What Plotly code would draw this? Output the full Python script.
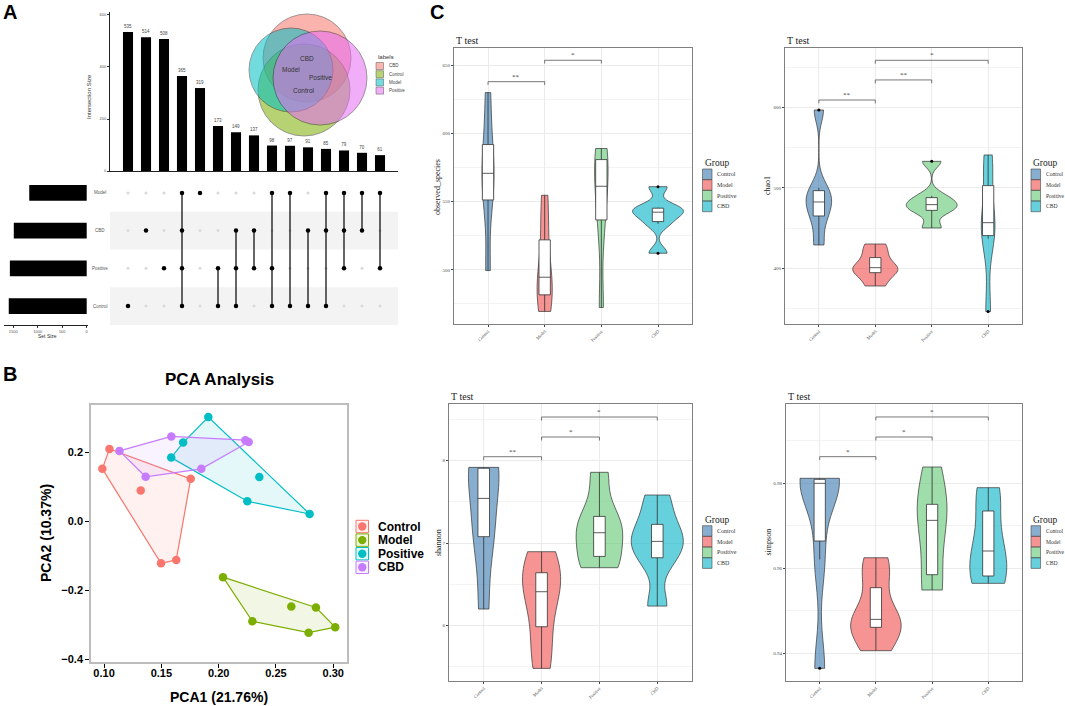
import numpy as np
import plotly.graph_objects as go

W, H = 1065, 706
def fx(p):
    return p / W
def fy(p):
    return 1 - p / H

SANS = "Liberation Sans"
SERIF = "Liberation Serif"

# ======================= DATA =======================
# Panel A : UpSet plot
set_names = ["Model", "CBD", "Positive", "Control"]          # matrix rows, top -> bottom
set_sizes = [1174, 1490, 1570, 1593]
intersection_sizes = [535, 514, 508, 365, 319, 173, 149, 137, 98, 97, 91, 85, 79, 70, 61]
intersection_sets = [
    ["Control"], ["CBD"], ["Positive"], ["Model", "CBD", "Positive", "Control"], ["Model"],
    ["Positive", "Control"], ["CBD", "Positive", "Control"], ["CBD", "Positive"],
    ["Model", "Positive", "Control"], ["Model", "Control"], ["CBD", "Control"],
    ["Model", "CBD", "Control"], ["Model", "CBD", "Positive"], ["Model", "CBD"],
    ["Model", "Positive"],
]
venn_labels = ["CBD", "Control", "Model", "Positive"]

# Panel B : PCA
pca_groups = ["Control", "Model", "Positive", "CBD"]
pc1_control = [0.1047, 0.0985, 0.1320, 0.1756, 0.1497, 0.1630]
pc2_control = [0.2097, 0.1520, 0.0890, 0.1230, -0.1220, -0.1120]
pc1_model = [0.2038, 0.2294, 0.2634, 0.2849, 0.3017, 0.2785]
pc2_model = [-0.162, -0.290, -0.247, -0.250, -0.307, -0.323]
pc1_positive = [0.1910, 0.1690, 0.1586, 0.2355, 0.2250, 0.2794]
pc2_positive = [0.302, 0.228, 0.1845, 0.1285, 0.058, 0.021]
pc1_cbd = [0.1587, 0.1134, 0.1363, 0.1849, 0.2233, 0.2262]
pc2_cbd = [0.246, 0.204, 0.129, 0.152, 0.235, 0.230]

# Panel C : alpha diversity (6 samples per group)
groups = ["Control", "Model", "Positive", "CBD"]
observed_species = {
    "Control": [499.5, 546.7, 565.0, 576.6, 597.0, 630.0],
    "Model": [469.5, 478.9, 490.0, 499.2, 529.6, 554.7],
    "Positive": [472.4, 530.5, 555.0, 567.6, 585.3, 589.0],
    "CBD": [512.2, 533.7, 540.5, 544.1, 545.6, 561.0],
}
chao1 = {
    "Control": [429.0, 460.7, 478.0, 486.8, 499.7, 596.7],
    "Model": [378.0, 393.1, 399.0, 402.6, 416.9, 430.2],
    "Positive": [450.1, 470.3, 477.0, 481.2, 490.0, 532.9],
    "CBD": [346.2, 436.8, 452.0, 461.4, 516.5, 540.8],
}
shannon = {
    "Control": [6.202, 7.039, 7.199, 7.887, 7.915, 7.919],
    "Model": [5.483, 5.867, 6.350, 6.474, 6.698, 6.897],
    "Positive": [6.703, 6.760, 7.080, 7.174, 7.375, 7.859],
    "CBD": [6.238, 6.772, 6.980, 7.064, 7.283, 7.584],
}
simpson = {
    "Control": [0.93647, 0.96211, 0.97940, 0.98060, 0.98105, 0.98118],
    "Model": [0.94063, 0.94576, 0.94720, 0.94880, 0.95767, 0.96250],
    "Positive": [0.95490, 0.95500, 0.96902, 0.97356, 0.97556, 0.98384],
    "CBD": [0.95647, 0.95677, 0.96250, 0.96566, 0.97610, 0.97898],
}
# significance comparisons: (group a, group b, label)
obs_pairs = [("Control", "Model", "**"), ("Model", "Positive", "*")]
chao1_pairs = [("Control", "Model", "**"), ("Model", "Positive", "**"), ("Model", "CBD", "*")]
shannon_pairs = [("Control", "Model", "**"), ("Model", "Positive", "*"), ("Model", "CBD", "*")]
simpson_pairs = [("Control", "Model", "*"), ("Model", "Positive", "*"), ("Model", "CBD", "*")]
# bracket heights (data units)
obs_bracket_y = [638.0, 653.7]
chao1_bracket_y = [609.1, 634.0, 658.4]
shannon_bracket_y = [8.048, 8.287, 8.529]
simpson_bracket_y = [0.98627, 0.99090, 0.99561]

# ======================= STYLE =======================
pca_colors = {"Control": "#F8766D", "Model": "#7CAE00", "Positive": "#00BFC4", "CBD": "#C77CFF"}
vio_colors = {"Control": "rgba(70,130,180,0.65)", "Model": "rgba(240,80,80,0.62)",
              "Positive": "rgba(100,200,120,0.62)", "CBD": "rgba(30,185,205,0.68)"}
venn_colors = {"CBD": "#F8766D", "Control": "#7CAE00", "Model": "#00BFC4", "Positive": "#E76BF3"}

def rgba(hexc, a):
    h = hexc.lstrip("#")
    return "rgba(%d,%d,%d,%.2f)" % (int(h[0:2], 16), int(h[2:4], 16), int(h[4:6], 16), a)

fig = go.Figure()
shapes = []
annots = []

def ann(xp, yp, text, size, color="#333", family=SANS, xanchor="center", yanchor="middle", angle=0):
    annots.append(dict(x=fx(xp), y=fy(yp), xref="paper", yref="paper", text=text, showarrow=False,
                       xanchor=xanchor, yanchor=yanchor, textangle=angle,
                       font=dict(size=size, color=color, family=family)))

# ======================= PANEL A =======================
cols = list(range(len(intersection_sizes)))
fig.add_trace(go.Bar(
    x=cols, y=intersection_sizes, width=0.56, marker=dict(color="black", line=dict(width=0)),
    text=[str(v) for v in intersection_sizes], textposition="outside",
    textfont=dict(size=4.5, color="#444", family=SANS), cliponaxis=False,
    xaxis="x", yaxis="y", showlegend=False, hoverinfo="skip"))

row_of = {s: len(set_names) - 1 - i for i, s in enumerate(set_names)}
gx, gy, bx, by, lx, ly = [], [], [], [], [], []
for c, mem in enumerate(intersection_sets):
    for s in set_names:
        if s in mem:
            bx.append(c); by.append(row_of[s])
        else:
            gx.append(c); gy.append(row_of[s])
    rows = [row_of[s] for s in mem]
    if len(rows) > 1:
        lx += [c, c, None]; ly += [min(rows), max(rows), None]

for r in (row_of["CBD"], row_of["Control"]):
    shapes.append(dict(type="rect", xref="x2 domain", yref="y2", x0=0, x1=1, y0=r - 0.5, y1=r + 0.5,
                       fillcolor="#F3F3F3", line=dict(width=0), layer="below"))

fig.add_trace(go.Scatter(x=gx, y=gy, mode="markers", marker=dict(color="#DADADA", size=3),
                         xaxis="x2", yaxis="y2", showlegend=False, hoverinfo="skip"))
fig.add_trace(go.Scatter(x=lx, y=ly, mode="lines", line=dict(color="black", width=1.2),
                         xaxis="x2", yaxis="y2", showlegend=False, hoverinfo="skip"))
fig.add_trace(go.Scatter(x=bx, y=by, mode="markers", marker=dict(color="black", size=4.5),
                         xaxis="x2", yaxis="y2", showlegend=False, hoverinfo="skip"))
for s in set_names:
    annots.append(dict(x=fx(100), xref="paper", y=row_of[s], yref="y2", text=s, showarrow=False,
                       font=dict(size=4.5, color="#555", family=SANS), xanchor="center", yanchor="middle"))

fig.add_trace(go.Bar(y=[row_of[s] for s in set_names], x=set_sizes, orientation="h", width=0.42,
                     marker=dict(color="black", line=dict(width=0)), xaxis="x3", yaxis="y3",
                     showlegend=False, hoverinfo="skip"))

ann(89, 97, "Intersection Size", 6, angle=-90)
ann(47.5, 336, "Set Size", 5)

# Venn (decorative geometry in pixel space)
venn_geom = {"CBD": (307, 58, 44), "Model": (291, 70, 42), "Positive": (320, 78, 47), "Control": (304, 90, 46)}
for s in ["CBD", "Control", "Model", "Positive"]:
    cx, cy, r = venn_geom[s]
    shapes.append(dict(type="circle", xref="paper", yref="paper", x0=fx(cx - r), x1=fx(cx + r),
                       y0=fy(cy + r), y1=fy(cy - r), fillcolor=venn_colors[s], opacity=0.55,
                       line=dict(color="#222", width=0.8)))
for s in ["CBD", "Control", "Model", "Positive"]:
    cx, cy, r = venn_geom[s]
    ann(cx, cy, s, 6.5, color="#333")
ann(376, 56.7, "labels", 6, xanchor="left")
for i, s in enumerate(venn_labels):
    cy = 66 + i * 8.2
    shapes.append(dict(type="rect", xref="paper", yref="paper", x0=fx(376), x1=fx(383.5),
                       y0=fy(cy + 3.5), y1=fy(cy - 3.5), fillcolor=rgba(venn_colors[s], 0.55),
                       line=dict(color="#555", width=0.5)))
    ann(387, cy, s, 4.5, color="#444", xanchor="left")

# ======================= PANEL B =======================
def convex_hull(xs, ys):
    pts = sorted(set(zip(xs, ys)))
    def cross(o, a, b):
        return (a[0] - o[0]) * (b[1] - o[1]) - (a[1] - o[1]) * (b[0] - o[0])
    lower, upper = [], []
    for p in pts:
        while len(lower) >= 2 and cross(lower[-2], lower[-1], p) <= 0:
            lower.pop()
        lower.append(p)
    for p in reversed(pts):
        while len(upper) >= 2 and cross(upper[-2], upper[-1], p) <= 0:
            upper.pop()
        upper.append(p)
    h = lower[:-1] + upper[:-1]
    h = h + [h[0]]
    return [p[0] for p in h], [p[1] for p in h]

pca_data = {"Control": (pc1_control, pc2_control), "Model": (pc1_model, pc2_model),
            "Positive": (pc1_positive, pc2_positive), "CBD": (pc1_cbd, pc2_cbd)}
for g in pca_groups:
    hx, hy = convex_hull(*pca_data[g])
    fig.add_trace(go.Scatter(x=hx, y=hy, mode="lines", fill="toself", fillcolor=rgba(pca_colors[g], 0.1),
                             line=dict(color=pca_colors[g], width=1.2), xaxis="x4", yaxis="y4",
                             showlegend=False, hoverinfo="skip"))
for g in pca_groups:
    fig.add_trace(go.Scatter(x=pca_data[g][0], y=pca_data[g][1], mode="markers",
                             marker=dict(color=pca_colors[g], size=8.5), xaxis="x4", yaxis="y4",
                             showlegend=False, hoverinfo="skip"))

ann(219, 380, "<b>PCA Analysis</b>", 17, color="black")
ann(219, 697, "<b>PCA1 (21.76%)</b>", 14, color="black")
ann(46, 533, "<b>PCA2 (10.37%)</b>", 14, color="black", angle=-90)
for i, g in enumerate(pca_groups):
    cy = 526.5 + i * 13.6
    shapes.append(dict(type="rect", xref="paper", yref="paper", x0=fx(356), x1=fx(368.5),
                       y0=fy(cy + 6.2), y1=fy(cy - 6.2), fillcolor=rgba(pca_colors[g], 0.1),
                       line=dict(color=pca_colors[g], width=1)))
    shapes.append(dict(type="circle", xref="paper", yref="paper", x0=fx(362.25 - 4.2), x1=fx(362.25 + 4.2),
                       y0=fy(cy + 4.2), y1=fy(cy - 4.2), fillcolor=pca_colors[g], line=dict(width=0)))
    ann(376, cy, "<b>%s</b>" % g, 12, color="black", xanchor="left")

# ======================= PANEL C =======================
def nrd0(v):
    v = np.asarray(v, float)
    q1, q3 = np.percentile(v, [25, 75])
    lo = min(np.std(v, ddof=1), (q3 - q1) / 1.34)
    if lo <= 0:
        lo = np.std(v, ddof=1)
    return 0.9 * lo * len(v) ** (-0.2)

def add_violin_panel(data, pairs, bracket_y, tick_h, ax, metric):
    xa, ya = "x%d" % ax, "y%d" % ax
    q1s, meds, q3s, lfs, ufs, ox, oy = [], [], [], [], [], [], []
    for g in groups:
        v = np.asarray(data[g], float)
        fig.add_trace(go.Violin(x=[g] * len(v), y=v, name=g, scalegroup=metric, scalemode="width",
                                spanmode="hard", bandwidth=nrd0(v), fillcolor=vio_colors[g],
                                line=dict(color="#333333", width=0.7), points=False,
                                box=dict(visible=False), meanline=dict(visible=False),
                                xaxis=xa, yaxis=ya, showlegend=False, hoverinfo="skip"))
        q1, md, q3 = np.percentile(v, [25, 50, 75])
        iqr = q3 - q1
        inside = v[(v >= q1 - 1.5 * iqr) & (v <= q3 + 1.5 * iqr)]
        q1s.append(q1); meds.append(md); q3s.append(q3)
        lfs.append(inside.min()); ufs.append(inside.max())
        for o in v[(v < q1 - 1.5 * iqr) | (v > q3 + 1.5 * iqr)]:
            ox.append(g); oy.append(o)
    fig.add_trace(go.Box(x=groups, q1=q1s, median=meds, q3=q3s, lowerfence=lfs, upperfence=ufs,
                         orientation="v", width=0.2, whiskerwidth=0, fillcolor="white",
                         line=dict(color="#333333", width=0.8), boxpoints=False,
                         xaxis=xa, yaxis=ya, showlegend=False, hoverinfo="skip"))
    if ox:
        fig.add_trace(go.Scatter(x=ox, y=oy, mode="markers", marker=dict(color="black", size=3),
                                 xaxis=xa, yaxis=ya, showlegend=False, hoverinfo="skip"))
    bx_, by_ = [], []
    for (a, b, lab), yb in zip(pairs, bracket_y):
        bx_ += [a, a, b, b, None]
        by_ += [yb - tick_h, yb, yb, yb - tick_h, None]
        ia, ib = groups.index(a), groups.index(b)
        annots.append(dict(x=(ia + ib) / 2, y=yb, xref=xa, yref=ya, text=lab, showarrow=False,
                           xanchor="center", yanchor="bottom", yshift=-1,
                           font=dict(size=7, color="#444", family=SERIF)))
    fig.add_trace(go.Scatter(x=bx_, y=by_, mode="lines", line=dict(color="#555", width=0.8),
                             xaxis=xa, yaxis=ya, showlegend=False, hoverinfo="skip", cliponaxis=False))

add_violin_panel(observed_species, obs_pairs, obs_bracket_y, 2.4, 5, "obs")
add_violin_panel(chao1, chao1_pairs, chao1_bracket_y, 4.2, 6, "chao1")
add_violin_panel(shannon, shannon_pairs, shannon_bracket_y, 0.042, 7, "shannon")
add_violin_panel(simpson, simpson_pairs, simpson_bracket_y, 0.0008, 8, "simpson")

def group_legend(xk, ytitle, rows, fs=6):
    ann(xk, ytitle, "Group", 9.5, color="#222", family=SERIF, xanchor="left")
    for g, cy in zip(groups, rows):
        shapes.append(dict(type="rect", xref="paper", yref="paper", x0=fx(xk), x1=fx(xk + 9.5),
                           y0=fy(cy + 5.3), y1=fy(cy - 5.3), fillcolor=vio_colors[g],
                           line=dict(color="#444", width=0.6)))
        ann(xk + 12.5, cy, g, fs, color="#333", family=SERIF, xanchor="left")

rows_top = [174.3, 185.0, 195.7, 206.4]
rows_bot = [531.0, 541.7, 552.4, 563.1]
group_legend(702.5, 163, rows_top)
group_legend(1031, 163, rows_top, 5.6)
group_legend(702.5, 520, rows_bot)
group_legend(1031, 520, rows_bot, 5.6)

for (xl, yc) in [(454, 40), (785, 40), (449, 396), (786, 396)]:
    ann(xl, yc, "T test", 10, color="#222", family=SERIF, xanchor="left")
for (xc, yc, t) in [(438, 187, "observed_species"), (767, 186, "chao1"),
                    (438, 543, "shannon"), (767.5, 542, "simpson")]:
    ann(xc, yc, t, 8, color="#222", family=SERIF, angle=-90)

for (xc, yc, t) in [(10, 12, "A"), (10, 374, "B"), (437, 12, "C")]:
    ann(xc, yc, "<b>%s</b>" % t, 20, color="black")

# ======================= LAYOUT =======================
def vx(dom, anchor):
    return dict(domain=[fx(dom[0]), fx(dom[1])], range=[-0.6, 3.6], type="category",
                categoryorder="array", categoryarray=groups, tickangle=-45, automargin=False,
                tickfont=dict(size=4.5, color="#4D4D4D", family=SERIF), ticks="outside", ticklen=2,
                tickwidth=0.5, tickcolor="#444", showgrid=True, gridcolor="#EBEBEB", gridwidth=0.8,
                showline=True, mirror=True, linecolor="#808080", linewidth=1, zeroline=False, anchor=anchor)

def vy(dom, rng, t0, dt, mt0, mdt, fmt, anchor):
    return dict(domain=[fy(dom[1]), fy(dom[0])], range=rng, tick0=t0, dtick=dt, tickformat=fmt,
                automargin=False,
                minor=dict(tick0=mt0, dtick=mdt, showgrid=True, gridcolor="#F3F3F3", gridwidth=0.5),
                tickfont=dict(size=5, color="#4D4D4D", family=SERIF), ticks="outside", ticklen=2,
                tickwidth=0.5, tickcolor="#444", showgrid=True, gridcolor="#EBEBEB", gridwidth=0.8,
                showline=True, mirror=True, linecolor="#808080", linewidth=1, zeroline=False, anchor=anchor)

hidden = dict(showticklabels=False, ticks="", showgrid=False, zeroline=False, showline=False, automargin=False)

fig.update_layout(
    template="none",
    width=W, height=H, margin=dict(l=0, r=0, t=0, b=0, pad=0, autoexpand=False),
    paper_bgcolor="white", plot_bgcolor="white",
    showlegend=False, violingap=0.1, violingroupgap=0, violinmode="overlay", boxmode="overlay",
    xaxis=dict(domain=[fx(110), fx(398)], range=[-1, 15], anchor="y", showticklabels=False, ticks="",
               showgrid=False, zeroline=False, showline=True, linecolor="#222", linewidth=0.8, automargin=False),
    yaxis=dict(domain=[fy(171), fy(12)], range=[0, 611.5], anchor="x", tickvals=[0, 200, 400, 600],
               ticks="outside", ticklen=2, tickwidth=0.5, tickcolor="#333", automargin=False,
               tickfont=dict(size=4, color="#555", family=SANS), showline=True, linecolor="#222",
               linewidth=0.8, showgrid=False, zeroline=False),
    xaxis2=dict(domain=[fx(110), fx(398)], range=[-1, 15], anchor="y2", **hidden),
    yaxis2=dict(domain=[fy(325), fy(174)], range=[-0.5, 3.5], anchor="x2", **hidden),
    xaxis3=dict(domain=[fx(4), fx(88)], range=[1690, -26.6], anchor="y3", tickvals=[0, 500, 1000, 1500],
                ticks="outside", ticklen=2, tickwidth=0.5, tickcolor="#333", automargin=False,
                tickfont=dict(size=4, color="#555", family=SANS), showline=True, linecolor="#222",
                linewidth=0.8, showgrid=False, zeroline=False),
    yaxis3=dict(domain=[fy(325), fy(174)], range=[-0.5, 3.5], anchor="x3", **hidden),
    xaxis4=dict(domain=[fx(91), fx(347)], range=[0.0886, 0.312], anchor="y4", automargin=False,
                tickvals=[0.10, 0.15, 0.20, 0.25, 0.30], tickformat=".2f", ticks="outside", ticklen=4,
                tickcolor="black", tickwidth=1, ticklabelstandoff=-4,
                tickfont=dict(size=11, color="black", family=SANS, weight="bold"),
                showline=True, mirror=True, linecolor="#BDBDBD", linewidth=1.5, showgrid=False, zeroline=False),
    yaxis4=dict(domain=[fy(662), fy(405)], range=[-0.408, 0.337], anchor="x4", automargin=False,
                tickvals=[-0.4, -0.2, 0.0, 0.2], tickformat=".1f", ticks="outside", ticklen=4,
                tickcolor="black", tickwidth=1,
                tickfont=dict(size=11, color="black", family=SANS, weight="bold"),
                showline=True, mirror=True, linecolor="#BDBDBD", linewidth=1.5, showgrid=False, zeroline=False),
    xaxis5=vx((454, 692), "y5"),
    yaxis5=vy((48, 324), [460.3, 662.7], 500, 50, 475, 50, "d", "x5"),
    xaxis6=vx((785, 1022), "y6"),
    yaxis6=vy((48, 324), [330.8, 673.7], 400, 100, 350, 100, "d", "x6"),
    xaxis7=vx((449, 692), "y7"),
    yaxis7=vy((404, 681), [5.33, 8.687], 6, 1, 5.5, 1, "d", "x7"),
    xaxis8=vx((786, 1022), "y8"),
    yaxis8=vy((404, 681), [0.9335, 0.99866], 0.94, 0.02, 0.95, 0.02, ".2f", "x8"),
    shapes=shapes, annotations=annots,
)

fig.write_html("out.html", config={"displayModeBar": False},
               post_script="document.body.style.margin='0';")
